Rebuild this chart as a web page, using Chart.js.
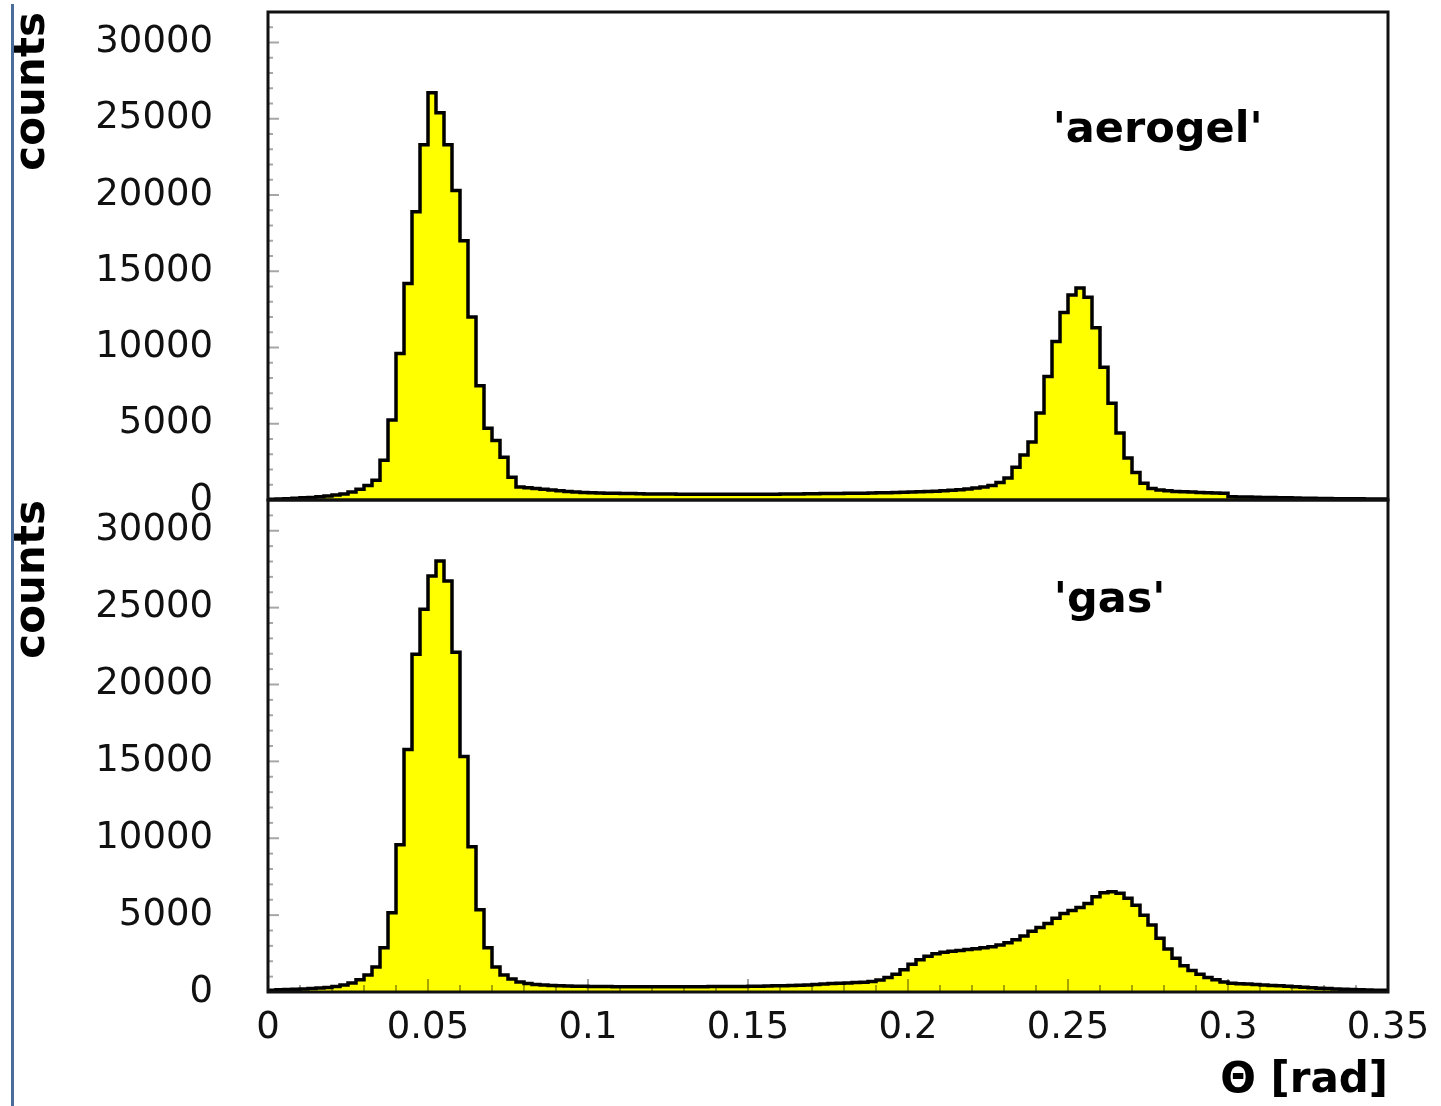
<!DOCTYPE html>
<html>
<head>
<meta charset="utf-8">
<script src="https://cdn.jsdelivr.net/npm/chart.js@4.4.1/dist/chart.umd.min.js"></script>
<style>
  html, body { margin: 0; padding: 0; background: #fff; }
  #wrap { position: relative; width: 1441px; height: 1106px; }
  #rule { position: absolute; left: 11px; top: 4px; width: 3px; height: 1102px; background: #4b6d99; }
  canvas { position: absolute; left: 0; top: 0; }
</style>
</head>
<body>
<div id="wrap">
  <div id="rule"></div>
  <canvas id="c" width="1441" height="1106"></canvas>
</div>
<script>
// histogram bins of 0.0025 rad, 140 bins from 0 to 0.35
var binWidth = 0.0025;

var aerogel = [
  50, 70, 90, 110, 140, 170, 210, 260, 320, 400,
  520, 700, 950, 1300, 2600, 5250, 9600, 14200, 18900, 23300,
  26700, 25400, 23300, 20300, 17000, 12000, 7500, 4700, 3900, 2800,
  1500, 850, 800, 750, 700, 650, 600, 560, 530, 500,
  480, 460, 450, 440, 430, 420, 410, 400, 400, 390,
  390, 380, 380, 375, 375, 370, 370, 370, 370, 375,
  375, 380, 380, 385, 390, 395, 400, 405, 410, 420,
  425, 430, 435, 440, 450, 460, 470, 480, 495, 510,
  525, 540, 560, 580, 610, 640, 680, 720, 780, 850,
  950, 1150, 1450, 2150, 2950, 3800, 5700, 8100, 10400, 12300,
  13450, 13900, 13300, 11300, 8700, 6350, 4400, 2750, 1800, 1100,
  750, 650, 600, 560, 540, 520, 500, 480, 460, 440,
  220, 200, 190, 180, 170, 160, 150, 140, 130, 120,
  110, 100, 95, 90, 85, 80, 75, 70, 65, 60
];

var gas = [
  120, 140, 160, 180, 200, 230, 260, 300, 360, 450,
  580, 800, 1100, 1630, 2870, 5150, 9580, 15780, 21970, 24900,
  27060, 28040, 26730, 22100, 15320, 9450, 5350, 2870, 1630, 1100,
  850, 650, 550, 480, 450, 420, 400, 390, 380, 370,
  360, 350, 350, 345, 345, 340, 340, 340, 340, 340,
  340, 340, 340, 345, 345, 350, 350, 355, 360, 365,
  370, 380, 390, 400, 410, 420, 440, 460, 490, 520,
  550, 570, 590, 610, 640, 680, 780, 950, 1150, 1450,
  1800, 2100, 2320, 2480, 2580, 2650, 2700, 2760, 2820, 2880,
  2950, 3050, 3200, 3400, 3650, 3950, 4200, 4450, 4800, 5100,
  5300, 5500, 5750, 6200, 6450, 6520, 6420, 6100, 5650, 5000,
  4350, 3500, 2800, 2200, 1700, 1400, 1150, 950, 800, 650,
  570, 540, 520, 490, 460, 430, 400, 370, 340, 310,
  280, 250, 220, 200, 180, 160, 140, 130, 120, 110
];

var xTicks = [0, 0.05, 0.1, 0.15, 0.2, 0.25, 0.3, 0.35];
var xTickLabels = ['0', '0.05', '0.1', '0.15', '0.2', '0.25', '0.3', '0.35'];
var yTicks = [0, 5000, 10000, 15000, 20000, 25000, 30000];
var yTickLabels = ['0', '5000', '10000', '15000', '20000', '25000', '30000'];

var panelLabels = ["'aerogel'", "'gas'"];

var FONT = 'DejaVu Sans';

// bin left edges + closing edge, drawn as a step line
function histPoints(counts) {
  var pts = counts.map(function (c, i) {
    return { x: i * binWidth, y: c };
  });
  pts.push({ x: counts.length * binWidth, y: counts[counts.length - 1] });
  return pts;
}

function histDataset(counts, axis) {
  return {
    data: histPoints(counts),
    yAxisID: axis,
    stepped: 'before',
    fill: 'origin',
    backgroundColor: '#ffff00',
    borderColor: '#000',
    borderWidth: 3.5,
    pointRadius: 0,
    tension: 0
  };
}

function countAxis(weight) {
  return {
    type: 'linear',
    position: 'left',
    stack: 'panels',
    stackWeight: weight,
    min: 0,
    max: 32000,
    grid: { display: false, drawTicks: false },
    border: { display: false },
    ticks: {
      padding: 55,
      autoSkip: false,
      color: '#111',
      font: { family: FONT, size: 37 },
      callback: function (v, i) { return yTickLabels[i]; }
    },
    afterBuildTicks: function (s) {
      s.ticks = yTicks.map(function (v) { return { value: v }; });
    },
    afterFit: function (s) {
      s.width = 268;
      s.paddingTop = 0;
      s.paddingBottom = 0;
    },
    title: {
      display: true,
      text: 'counts',
      align: 'end',
      color: '#000',
      padding: { top: 8, bottom: 0 },
      font: { family: FONT, size: 42, weight: 'bold' }
    }
  };
}

var framePlugin = {
  id: 'frame',
  afterDatasetsDraw: function (chart) {
    var ctx = chart.ctx, a = chart.chartArea, sx = chart.scales.x;
    var panels = [chart.scales.yTop, chart.scales.yBottom];
    ctx.save();

    // little inside ticks
    ctx.strokeStyle = 'rgba(0,0,0,0.35)';
    ctx.lineWidth = 2;
    panels.forEach(function (s) {
      for (var v = 1000; v < 32000; v += 1000) {
        var py = s.getPixelForValue(v);
        var len = v % 5000 === 0 ? 11 : 5;
        ctx.beginPath();
        ctx.moveTo(a.left, py);
        ctx.lineTo(a.left + len, py);
        ctx.stroke();
      }
    });
    var bottom = chart.scales.yBottom.bottom;
    for (var k = 1; k < 35; k++) {
      var px = sx.getPixelForValue(k / 100);
      var len = k % 5 === 0 ? 13 : 7;
      ctx.beginPath();
      ctx.moveTo(px, bottom);
      ctx.lineTo(px, bottom - len);
      ctx.stroke();
    }

    // panel frames
    ctx.strokeStyle = '#111';
    ctx.lineWidth = 3;
    panels.forEach(function (s) {
      ctx.strokeRect(a.left, s.top, a.right - a.left, s.bottom - s.top);
    });

    // panel names
    ctx.fillStyle = '#000';
    ctx.font = 'bold 43px "' + FONT + '"';
    ctx.textAlign = 'center';
    ctx.textBaseline = 'alphabetic';
    ctx.fillText(panelLabels[0], sx.getPixelForValue(0.278), chart.scales.yTop.getPixelForValue(23500));
    ctx.fillText(panelLabels[1], sx.getPixelForValue(0.263), chart.scales.yBottom.getPixelForValue(24700));
    ctx.restore();
  }
};

new Chart(document.getElementById('c'), {
  type: 'line',
  data: {
    datasets: [histDataset(aerogel, 'yTop'), histDataset(gas, 'yBottom')]
  },
  options: {
    responsive: false,
    animation: false,
    layout: { padding: { top: 12, right: 53, bottom: 0, left: 0 } },
    plugins: {
      legend: { display: false },
      tooltip: { enabled: false }
    },
    scales: {
      x: {
        type: 'linear',
        min: 0,
        max: 0.35,
        grid: { display: false, drawTicks: false },
        border: { display: false },
        ticks: {
          padding: 14,
          autoSkip: false,
          color: '#111',
          maxRotation: 0,
          font: { family: FONT, size: 37 },
          callback: function (v, i) { return xTickLabels[i]; }
        },
        afterBuildTicks: function (s) {
          s.ticks = xTicks.map(function (v) { return { value: v }; });
        },
        afterFit: function (s) {
          s.height = 114;
          s.paddingLeft = 0;
          s.paddingRight = 0;
        },
        title: {
          display: true,
          text: 'Θ [rad]',
          align: 'end',
          color: '#000',
          padding: { top: 0, bottom: 0 },
          font: { family: FONT, size: 42, weight: 'bold' }
        }
      },
      // stacked axes are laid out bottom-up, so the lower panel comes first
      yBottom: countAxis(492),
      yTop: countAxis(488)
    }
  },
  plugins: [framePlugin]
});
</script>
</body>
</html>
